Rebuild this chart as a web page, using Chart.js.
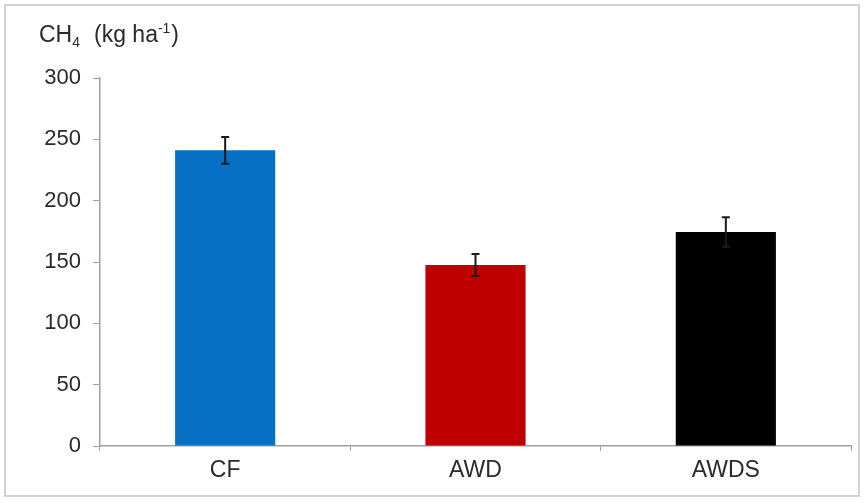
<!DOCTYPE html>
<html>
<head>
<meta charset="utf-8">
<script src="https://cdn.jsdelivr.net/npm/chart.js@4"></script>
<style>
  html, body { margin: 0; padding: 0; background: #fff; }
  #wrap { width: 864px; height: 503px; position: relative; }
</style>
</head>
<body>
<div id="wrap"><canvas id="c" width="864" height="503"></canvas></div>
<script>
// Methane emissions by water regime
const categories = ['CF', 'AWD', 'AWDS'];
const ch4Values = [241, 147.5, 174.5];
const ch4Errors = [11, 9, 12];
const barColors = ['#0570c4', '#c00000', '#000000'];
const yTicks = [0, 50, 100, 150, 200, 250, 300];

const fontFamily = '"Liberation Sans", Arial, sans-serif';

// Error bars drawn from the value/error arrays through the chart scales
const errorBars = {
  id: 'errorBars',
  afterDatasetsDraw(chart) {
    const { ctx, scales: { x, y } } = chart;
    ctx.save();
    ctx.strokeStyle = '#1a1a1a';
    ctx.lineWidth = 2;
    ch4Values.forEach((v, i) => {
      const cx = x.getPixelForValue(i);
      const top = y.getPixelForValue(v + ch4Errors[i]);
      const bot = y.getPixelForValue(v - ch4Errors[i]);
      ctx.beginPath();
      ctx.moveTo(cx, top); ctx.lineTo(cx, bot);
      ctx.moveTo(cx - 4, top); ctx.lineTo(cx + 4, top);
      ctx.moveTo(cx - 4, bot); ctx.lineTo(cx + 4, bot);
      ctx.stroke();
    });
    ctx.restore();
  }
};

// Axis title with sub/superscripts, plus the outer frame
const decor = {
  id: 'decor',
  afterDraw(chart) {
    const ctx = chart.ctx;
    ctx.save();
    ctx.strokeStyle = '#c4c4c4';
    ctx.lineWidth = 1.5;
    ctx.strokeRect(5, 5, 854, 491);
    ctx.fillStyle = '#2a2a2a';
    ctx.textBaseline = 'alphabetic';
    const base = 42;
    const parts = [
      ['CH', 23, 0, 39],
      ['4', 14, 5, null],
      ['(kg ha', 23, 0, 94],
      ['-1', 14, -9, null],
      [')', 23, 0, null]
    ];
    let xPos = 39;
    parts.forEach(([t, size, dy, at]) => {
      if (at !== null) xPos = at;
      ctx.font = size + 'px ' + fontFamily;
      ctx.fillText(t, xPos, base + dy);
      xPos += ctx.measureText(t).width + (size < 20 ? 1 : 0);
    });
    ctx.restore();
  }
};

new Chart(document.getElementById('c'), {
  type: 'bar',
  data: {
    labels: categories,
    datasets: [{
      data: ch4Values,
      backgroundColor: barColors,
      barPercentage: 0.4,
      categoryPercentage: 1.0,
      borderWidth: 0
    }]
  },
  options: {
    responsive: false,
    animation: false,
    devicePixelRatio: 1,
    layout: { padding: { top: 78, right: 13, left: 0, bottom: 0 } },
    plugins: { legend: { display: false }, tooltip: { enabled: false } },
    scales: {
      x: {
        afterFit(s) { s.height = 57; },
        border: { color: '#a0a0a0', width: 1.5 },
        grid: { drawOnChartArea: false, drawTicks: true, tickLength: 5, color: '#a0a0a0' },
        ticks: { color: '#2a2a2a', font: { family: fontFamily, size: 23 }, padding: 6 }
      },
      y: {
        min: 0, max: 300,
        afterFit(s) { s.width = 100; },
        afterBuildTicks(s) { s.ticks = yTicks.map(v => ({ value: v })); },
        border: { color: '#a0a0a0', width: 1.5 },
        grid: { drawOnChartArea: false, drawTicks: true, tickLength: 7, color: '#a0a0a0' },
        ticks: { color: '#2a2a2a', font: { family: fontFamily, size: 22 }, padding: 12 }
      }
    }
  },
  plugins: [errorBars, decor]
});
</script>
</body>
</html>
